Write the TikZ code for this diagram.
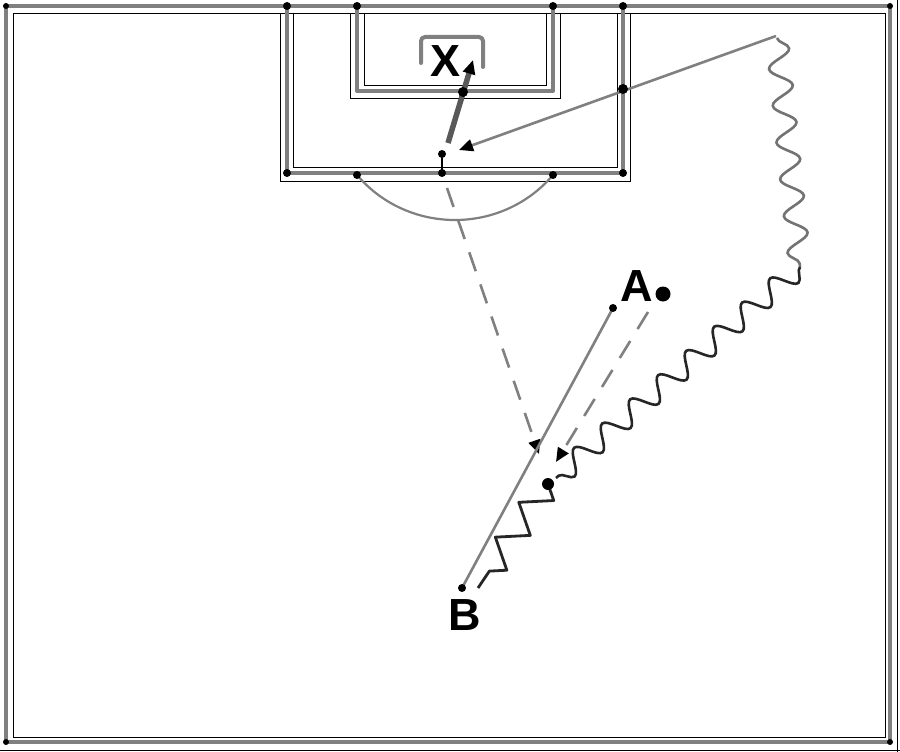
\documentclass[tikz,border=0pt]{standalone}
\usepackage{fontspec}
\setmainfont{Liberation Sans}
\usetikzlibrary{arrows.meta,decorations.pathmorphing}
\begin{document}
\begin{tikzpicture}[x=1pt,y=-1pt,
  gline/.style={draw=black!50, line width=4pt, line cap=round, line join=round},
  bline/.style={draw=black, line width=0.9pt},
  pdot/.style={circle, fill=black, inner sep=0pt, minimum size=8pt},
  passline/.style={draw=black!50, line width=2.6pt},
  shotline/.style={draw=black!65, line width=5.5pt},
  passdash/.style={draw=black!50, line width=2.6pt, dash pattern=on 20pt off 14pt},
  wave/.style={decorate, decoration={snake, segment length=37pt, amplitude=11pt}, line width=2.6pt},
  zz/.style={decorate, decoration={zigzag, segment length=42pt, amplitude=14pt}, line width=2.8pt, line join=round},
  lbl/.style={font=\fontsize{45}{45}\selectfont\bfseries, inner sep=0pt},
  tip/.style={-{Triangle[length=14pt,width=12pt,black]}}
]
\useasboundingbox (0,0) rectangle (900,752);
\fill[white] (0,0) rectangle (900,752);

% ---- thin black companion lines ----
\draw[bline] (13,13) rectangle (885,737);
\draw[bline] (897,0) -- (897,752);
\draw[bline] (0,750) -- (900,750);
\draw[bline] (293,13) -- (293,167) -- (617,167) -- (617,13);
\draw[bline] (280,13) -- (280,181) -- (630,181) -- (630,13);
\draw[bline] (364,13) -- (364,85) -- (546,85) -- (546,13);
\draw[bline] (350,13) -- (350,98) -- (560,98) -- (560,13);

% ---- gray field lines ----
\draw[gline] (6,6) rectangle (890,742);
\draw[gline] (287,6) -- (287,173) -- (623,173) -- (623,6);
\draw[gline] (357,6) -- (357,91) -- (553,91) -- (553,6);
\draw[gline, rounded corners=4pt] (421,63) -- (421,37) -- (483,37) -- (483,67);
\draw[draw=black!50, line width=2.2pt] (357,175) .. controls (408,235) and (502,235) .. (553,175);

% ---- named points ----
\coordinate (pS) at (442,154);
\coordinate (pL) at (442,173);
\coordinate (passS) at (776,36);
\coordinate (passE) at (459,150);
\coordinate (cross) at (623,89);
\coordinate (shotS) at (448,143);
\coordinate (shotM) at (463,92);
\coordinate (shotE) at (473,60);
\coordinate (d1S) at (447,188);
\coordinate (d1E) at (539,454);
\coordinate (d2S) at (648,312);
\coordinate (d2E) at (556,462);
\coordinate (aS) at (613,308);
\coordinate (bE) at (462,588);
\coordinate (w1S) at (777,38);
\coordinate (w1E) at (800,267);
\coordinate (w2E) at (556,478);
\coordinate (zS) at (548,484);
\coordinate (zE) at (478,588);

% ---- movements ----
\draw[draw=black, line width=2pt] (pS) -- (pL);
\draw[passline, tip] (passS) -- (passE);
\draw[shotline, tip] (shotS) -- (shotE);
\draw[passdash, tip] (d1S) -- (d1E);
\draw[passdash, tip] (d2S) -- (d2E);
\draw[passline] (aS) -- (bE);
\draw[wave, draw=black!55] (w1S) -- (w1E);
\draw[wave, draw=black!85] (w1E) -- (w2E);
\draw[zz, draw=black!85] (zS) -- (zE);

% ---- dots ----
\foreach \p in {(287,6),(357,6),(553,6),(623,6),(287,173),(623,173),(357,175),(553,175)}
  \node[pdot] at \p {};
\node[pdot] at (pS) {};
\node[pdot] at (pL) {};
\node[pdot, minimum size=10pt] at (cross) {};
\node[pdot, minimum size=10pt] at (shotM) {};
\node[pdot] at (aS) {};
\node[pdot] at (bE) {};
\node[pdot, minimum size=12pt] at (zS) {};
\node[pdot, minimum size=6pt] at (6,6) {};
\node[pdot, minimum size=6pt] at (6,742) {};
\node[pdot, minimum size=6pt] at (890,742) {};
\node[pdot, minimum size=6pt] at (890,6) {};

% ---- labels ----
\node[lbl] (X) at (446,61) {X};
\node[lbl] (A) at (637,286) {A};
\node[lbl] (B) at (465,615) {B};
\node[circle, fill=black, inner sep=0pt, minimum size=15pt] (ball) at (663,294) {};
\end{tikzpicture}
\end{document}
